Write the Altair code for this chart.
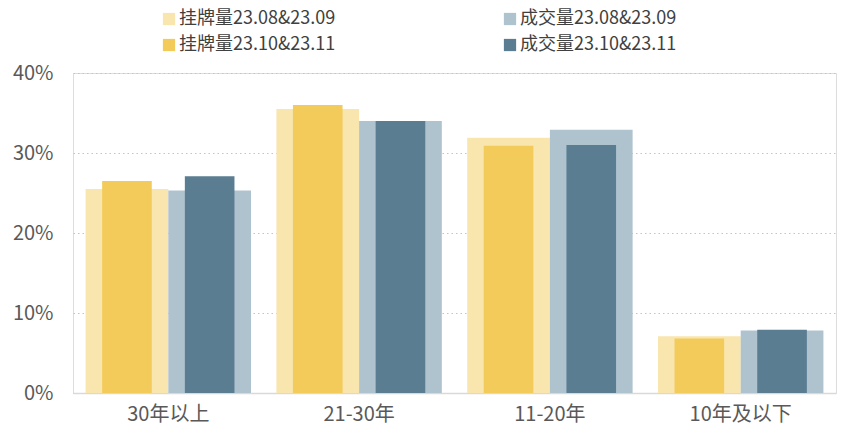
import altair as alt
import pandas as pd

categories = ["30年以上", "21-30年", "11-20年", "10年及以下"]
listing_prev = [0.255, 0.355, 0.319, 0.071]   # 挂牌量23.08&23.09
listing_curr = [0.265, 0.360, 0.309, 0.068]   # 挂牌量23.10&23.11
deal_prev = [0.253, 0.340, 0.329, 0.078]      # 成交量23.08&23.09
deal_curr = [0.271, 0.340, 0.310, 0.079]      # 成交量23.10&23.11

series_names = ["挂牌量23.08&23.09", "成交量23.08&23.09", "挂牌量23.10&23.11", "成交量23.10&23.11"]
series_colors = ["#F9E5AE", "#AFC3CF", "#F2CB5B", "#5A7D92"]
groups = ["挂牌量", "成交量"]

rows = []
for i, c in enumerate(categories):
    rows.append(dict(cat=c, group="挂牌量", period="prev", series=series_names[0], value=listing_prev[i]))
    rows.append(dict(cat=c, group="成交量", period="prev", series=series_names[1], value=deal_prev[i]))
    rows.append(dict(cat=c, group="挂牌量", period="curr", series=series_names[2], value=listing_curr[i]))
    rows.append(dict(cat=c, group="成交量", period="curr", series=series_names[3], value=deal_curr[i]))
df = pd.DataFrame(rows)

FONT = "Noto Sans CJK SC"

x_enc = alt.X("cat:N", sort=categories, title=None,
              scale=alt.Scale(paddingInner=0.133, paddingOuter=0.066),
              axis=alt.Axis(labelAngle=0, labelFontSize=20, labelColor="#595959", labelFont=FONT,
                            ticks=False, domainColor="#D9D9D9", domainWidth=1.5, labelPadding=11))
y_enc = alt.Y("value:Q", title=None,
              scale=alt.Scale(domain=[0, 0.4]),
              axis=alt.Axis(format=".0%", values=[0, 0.1, 0.2, 0.3, 0.4], labelFontSize=20,
                            labelColor="#595959", labelFont=FONT, ticks=False, domain=False,
                            gridColor="#C4C4C4", gridDash=[1.5, 3], gridWidth=1.2, labelPadding=20))
color_enc = alt.Color("series:N", sort=series_names,
                      scale=alt.Scale(domain=series_names, range=series_colors),
                      legend=alt.Legend(title=None, orient="none", legendX=87, legendY=-63,
                                        columns=2, direction="horizontal",
                                        symbolType="square", symbolSize=150, symbolStrokeWidth=0,
                                        labelFontSize=18, labelFont=FONT, labelColor="#404040",
                                        labelLimit=400, columnPadding=165, rowPadding=8,
                                        labelOffset=1))

base = alt.Chart(df)
light = base.transform_filter(alt.datum.period == "prev").mark_bar().encode(
    x=x_enc,
    xOffset=alt.XOffset("group:N", sort=groups, scale=alt.Scale(paddingInner=0, paddingOuter=0)),
    y=y_enc, color=color_enc)
dark = base.transform_filter(alt.datum.period == "curr").mark_bar().encode(
    x=x_enc,
    xOffset=alt.XOffset("group:N", sort=groups, scale=alt.Scale(paddingInner=0.4, paddingOuter=0.2)),
    y=y_enc, color=color_enc)

chart = alt.layer(light, dark).resolve_scale(xOffset="independent").properties(
    width=763, height=320,
    padding={"left": 73, "top": 73, "right": 5, "bottom": 41},
    autosize="none",
).configure_view(stroke=None).configure(background="white")

chart.save("out.html", embed_options={"renderer": "svg", "actions": False})
